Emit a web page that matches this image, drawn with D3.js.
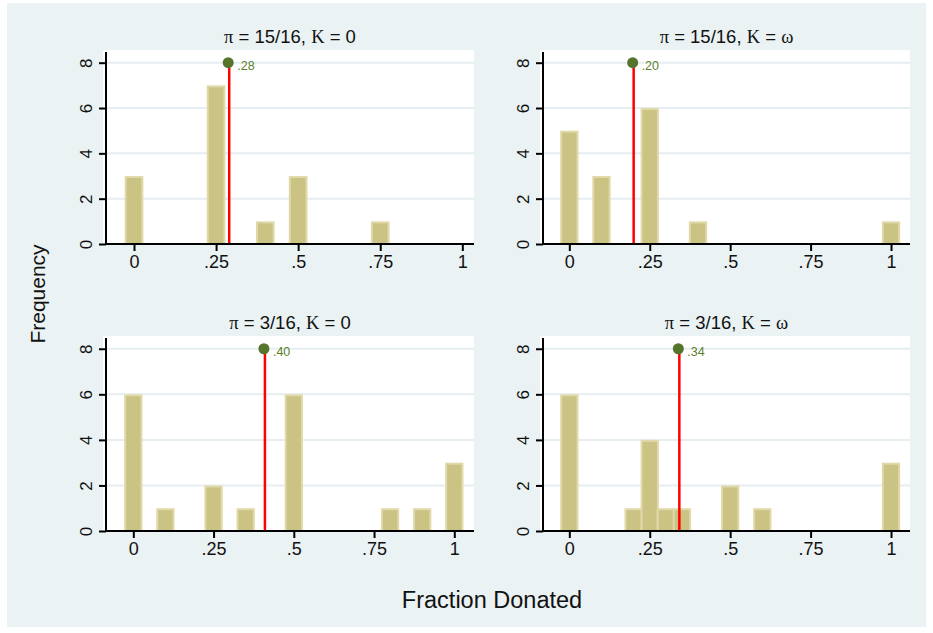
<!DOCTYPE html>
<html>
<head>
<meta charset="utf-8">
<script src="https://cdn.jsdelivr.net/npm/d3@7"></script>
<style>
  body { margin: 0; background: #ffffff; }
  text { font-family: "Liberation Sans", Arial, sans-serif; fill: #111; }
  .greek { font-family: "Liberation Serif", "DejaVu Serif", serif; }
</style>
</head>
<body>
<div id="chart"></div>
<script>

// Panel titles: pi and K values
var piLabels = ["15/16", "15/16", "3/16", "3/16"];
var kLabels = ["0", "\u03c9", "0", "\u03c9"];

// Histogram bars (fraction donated -> frequency) for each panel
var p1Values = [0, 0.25, 0.4, 0.5, 0.75];
var p1Counts = [3, 7, 1, 3, 1];
var p2Values = [0, 0.1, 0.25, 0.4, 1];
var p2Counts = [5, 3, 6, 1, 1];
var p3Values = [0, 0.1, 0.25, 0.35, 0.5, 0.8, 0.9, 1];
var p3Counts = [6, 1, 2, 1, 6, 1, 1, 3];
var p4Values = [0, 0.2, 0.25, 0.3, 0.35, 0.5, 0.6, 1];
var p4Counts = [6, 1, 4, 1, 1, 2, 1, 3];

// Mean markers
var means = [0.29, 0.2, 0.41, 0.342];
var meanLabels = [".28", ".20", ".40", ".34"];

// Axis ticks
var xTicks = [0, 0.25, 0.5, 0.75, 1];
var xTickLabels = ["0", ".25", ".5", ".75", "1"];
var yTicks = [0, 2, 4, 6, 8];

var barWidth = 0.057;

var panelValues = [p1Values, p2Values, p3Values, p4Values];
var panelCounts = [p1Counts, p2Counts, p3Counts, p4Counts];

// x ranges differ a little from panel to panel
var xDomains = [[-0.0853, 1.0356], [-0.0818, 1.059], [-0.0851, 1.0614], [-0.0818, 1.059]];
var yDomain = [0, 8.56];

var width = 933, height = 633;

// Plot region boxes (left, right, top, bottom)
var boxes = [
    {left: 106, right: 474, top: 50, bottom: 244},
    {left: 543, right: 910, top: 50, bottom: 244},
    {left: 106, right: 474, top: 336, bottom: 531},
    {left: 543, right: 910, top: 336, bottom: 531}
];

var svg = d3.select("#chart")
    .append("svg")
        .attr("width", width)
        .attr("height", height);

// Graph region background
svg.append("rect")
    .attr("x", 7).attr("y", 3)
    .attr("width", 919).attr("height", 624)
    .attr("fill", "#eaf2f3");

function drawPanel(i) {
    var box = boxes[i];
    var x = d3.scaleLinear().domain(xDomains[i]).range([box.left, box.right]);
    var y = d3.scaleLinear().domain(yDomain).range([box.bottom, box.top]);
    var g = svg.append("g");

    // Plot region
    g.append("rect")
        .attr("x", box.left - 3).attr("y", box.top)
        .attr("width", box.right - box.left + 3)
        .attr("height", box.bottom - box.top)
        .attr("fill", "#ffffff");

    // Gridlines
    g.selectAll(".grid")
        .data(yTicks.filter(function(d) { return d > 0; }))
        .enter().append("line")
            .attr("x1", box.left).attr("x2", box.right)
            .attr("y1", function(d) { return y(d); })
            .attr("y2", function(d) { return y(d); })
            .attr("stroke", "#e6eef1")
            .attr("stroke-width", 2);

    // Bars
    var bars = panelValues[i].map(function(v, j) { return {v: v, n: panelCounts[i][j]}; });
    g.selectAll(".bar")
        .data(bars)
        .enter().append("rect")
            .attr("x", function(d) { return x(d.v - barWidth / 2) + 1; })
            .attr("width", function(d) { return x(d.v + barWidth / 2) - x(d.v - barWidth / 2) - 2; })
            .attr("y", function(d) { return y(d.n) + 1; })
            .attr("height", function(d) { return y(0) - y(d.n) - 1; })
            .attr("fill", "#cbc384")
            .attr("stroke", "#e0d9a9")
            .attr("stroke-width", 2);

    // Mean line and marker
    g.append("line")
        .attr("x1", x(means[i])).attr("x2", x(means[i]))
        .attr("y1", y(0)).attr("y2", y(8))
        .attr("stroke", "#ff0000")
        .attr("stroke-width", 2.5);
    g.append("circle")
        .attr("cx", x(means[i]) - 1).attr("cy", y(8))
        .attr("r", 5.5)
        .attr("fill", "#55742c");
    g.append("text")
        .attr("x", x(means[i]) + 8).attr("y", y(8) + 7)
        .style("font-size", "12.5px")
        .style("fill", "#5b7f2b")
        .text(meanLabels[i]);

    // X axis
    var xAxis = d3.axisBottom(x)
        .tickValues(xTicks)
        .tickSize(7)
        .tickPadding(4)
        .tickFormat(function(d, k) { return xTickLabels[k]; });
    var gx = g.append("g")
        .attr("transform", "translate(0," + box.bottom + ")")
        .call(xAxis);
    gx.select(".domain").attr("d", "M" + box.left + ",0H" + box.right).attr("stroke-width", 2);
    gx.selectAll(".tick line").attr("stroke-width", 2);
    gx.selectAll(".tick text").style("font-size", "18px").style("font-family", "Liberation Sans, Arial, sans-serif");

    // Y axis
    var yAxis = d3.axisLeft(y)
        .tickValues(yTicks)
        .tickSize(7)
        .tickFormat(d3.format("d"));
    var gy = g.append("g")
        .attr("transform", "translate(" + box.left + ",0)")
        .call(yAxis);
    gy.select(".domain").attr("d", "M0," + (box.top + 2) + "V" + box.bottom).attr("stroke-width", 2);
    gy.selectAll(".tick line").attr("stroke-width", 2);
    gy.selectAll(".tick text")
        .attr("x", null).attr("dy", null)
        .attr("text-anchor", "middle")
        .attr("transform", "translate(-20,0) rotate(-90)")
        .attr("y", 0)
        .attr("dy", "0.35em")
        .style("font-size", "17px")
        .style("font-family", "Liberation Sans, Arial, sans-serif");

    // Title
    var title = g.append("text")
        .attr("x", (box.left + box.right) / 2)
        .attr("y", box.top - 7)
        .attr("text-anchor", "middle")
        .style("font-size", "18.5px");
    title.append("tspan").attr("class", "greek").text("\u03c0");
    title.append("tspan").text(" = " + piLabels[i] + ", ");
    title.append("tspan").attr("class", "greek").text("K");
    title.append("tspan").text(" = ");
    title.append("tspan").attr("class", kLabels[i] === "0" ? null : "greek").text(kLabels[i]);
}

for (var i = 0; i < 4; i++) {
    drawPanel(i);
}

// Shared axis titles
svg.append("text")
    .attr("transform", "translate(45,294) rotate(-90)")
    .attr("text-anchor", "middle")
    .style("font-size", "21px")
    .text("Frequency");

svg.append("text")
    .attr("x", 492).attr("y", 608)
    .attr("text-anchor", "middle")
    .style("font-size", "23.5px")
    .text("Fraction Donated");

</script>
</body>
</html>
